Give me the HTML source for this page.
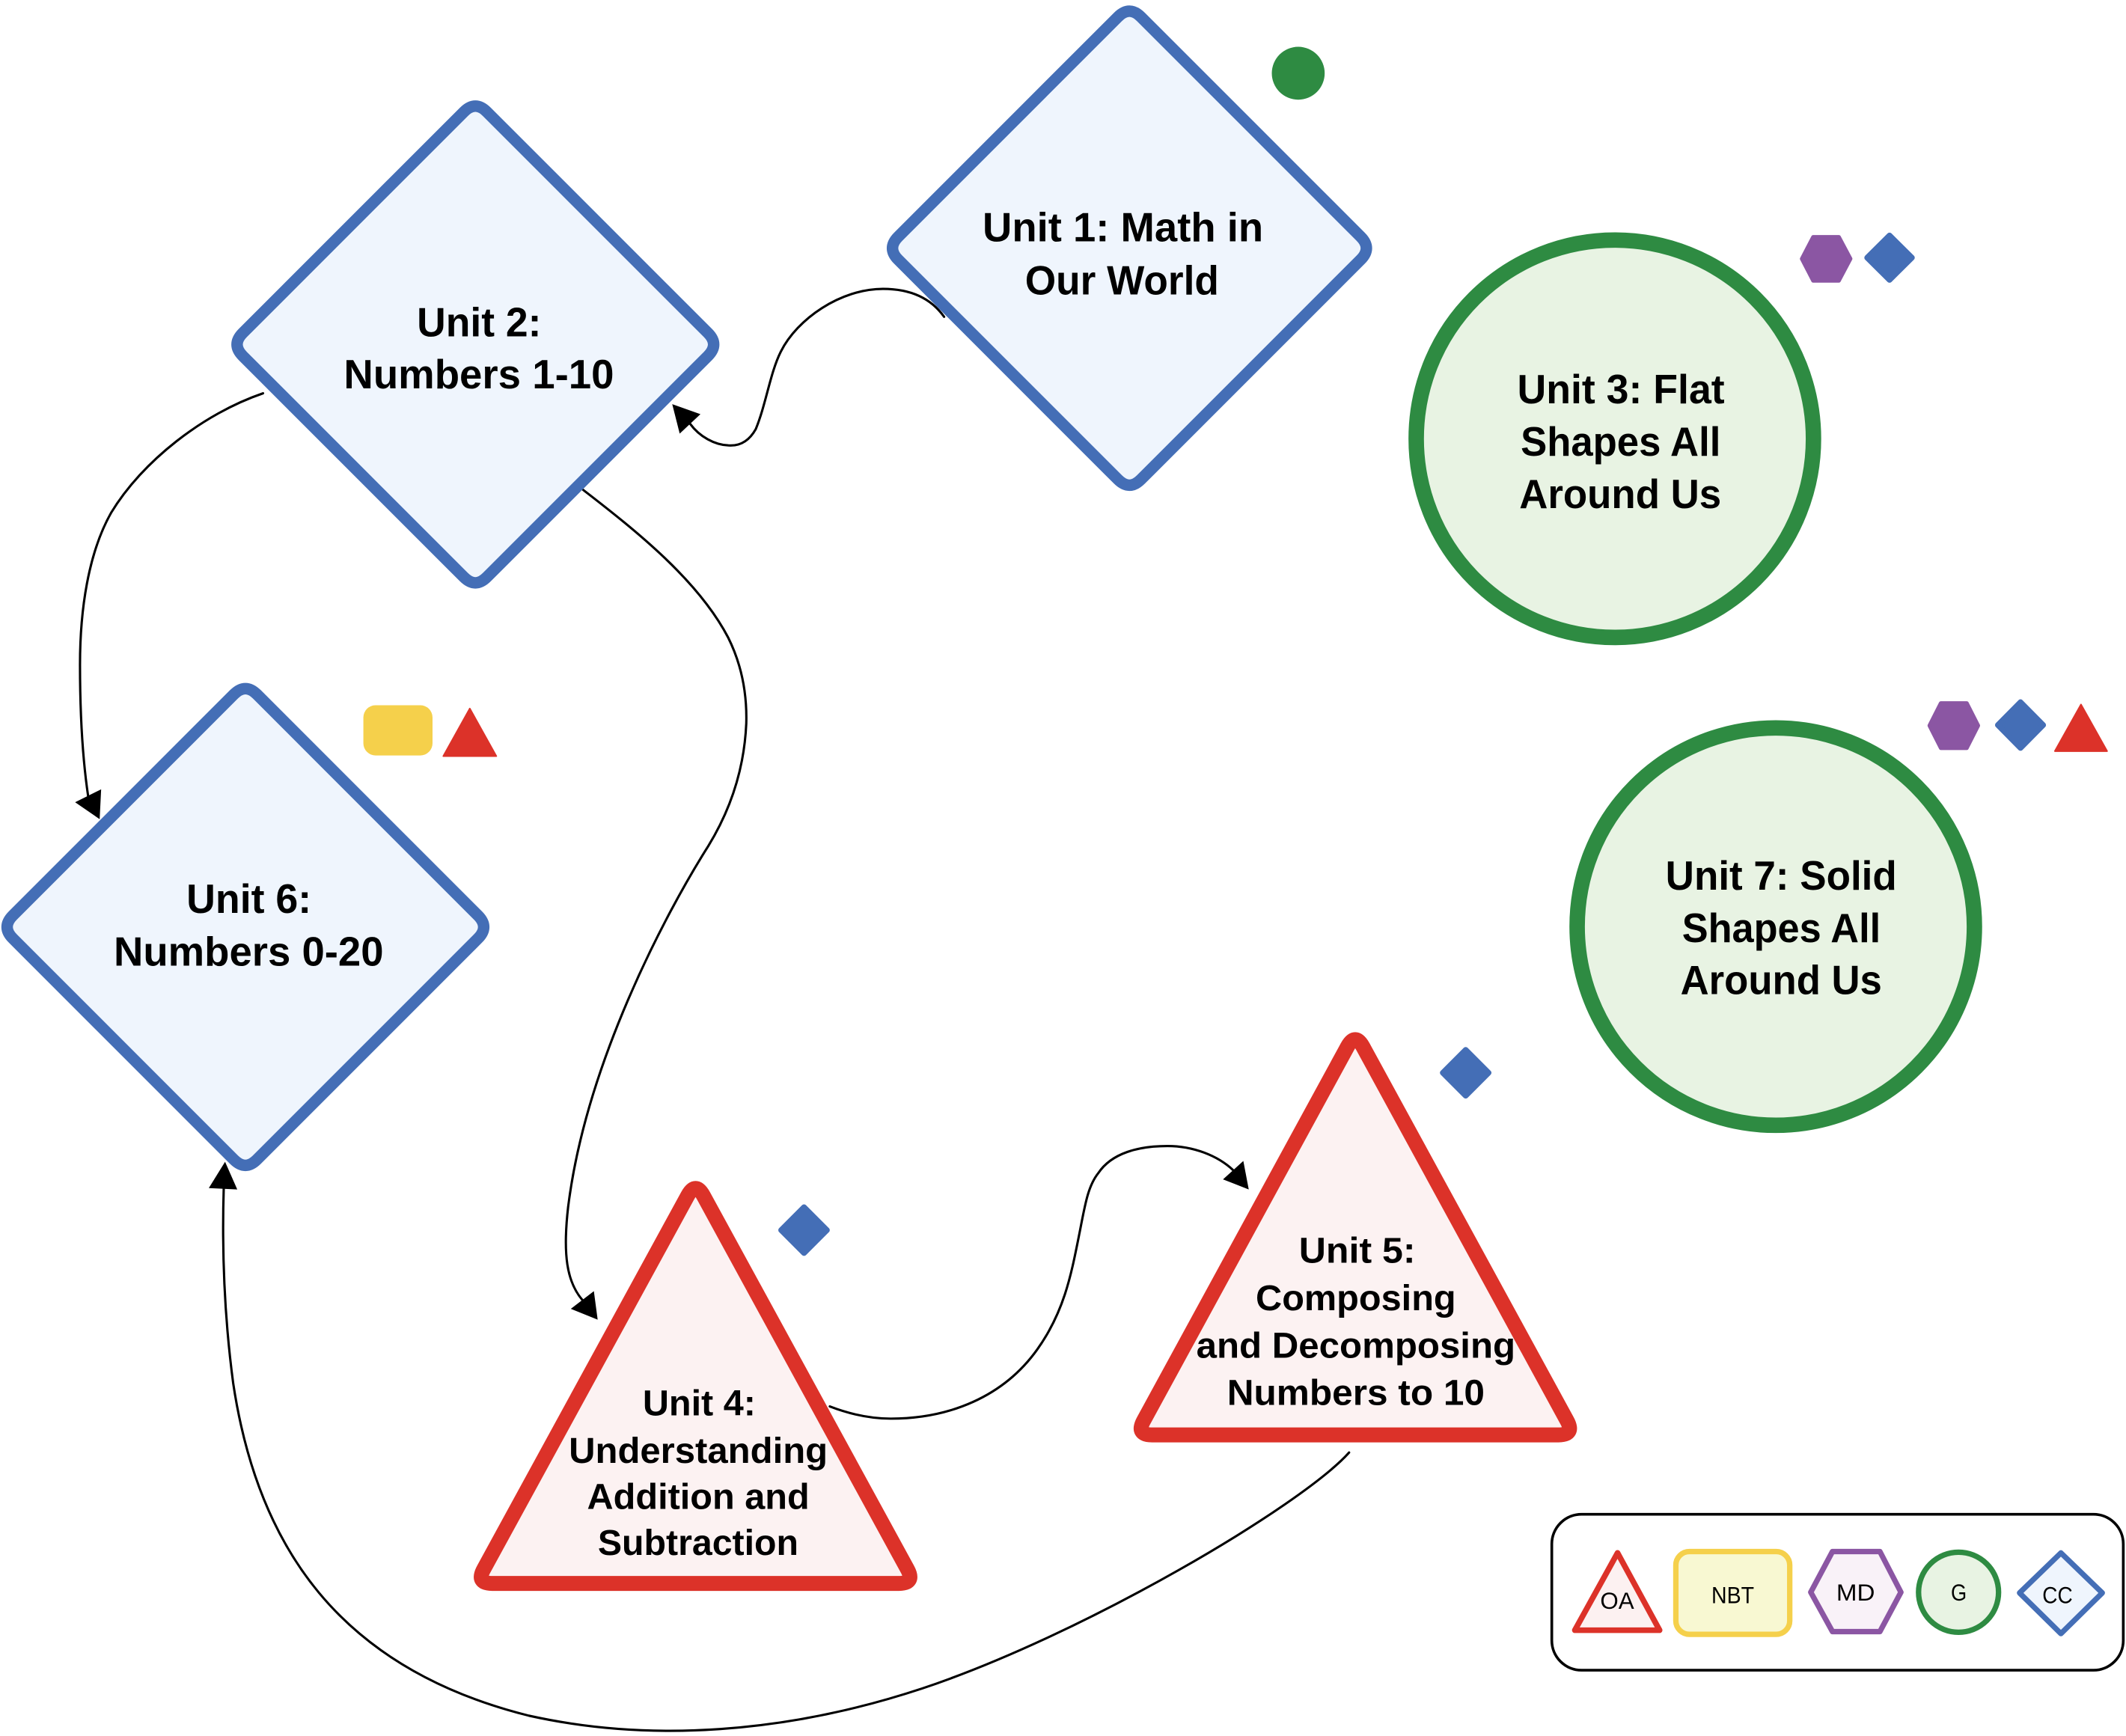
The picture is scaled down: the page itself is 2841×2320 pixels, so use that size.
<!DOCTYPE html>
<html>
<head>
<meta charset="utf-8">
<style>
html,body{margin:0;padding:0;background:#ffffff;width:2841px;height:2320px;overflow:hidden}
svg{display:block}
.t{font-family:"Liberation Sans",Arial,sans-serif;font-weight:bold;fill:#000}
.l{font-family:"Liberation Sans",Arial,sans-serif;font-weight:normal;fill:#000}
.c{fill:none;stroke:#000;stroke-width:1.7;stroke-linecap:round;stroke-linejoin:round}
</style>
</head>
<body>
<svg width="2841" height="2320" viewBox="0 0 1568 1280" preserveAspectRatio="none" xmlns="http://www.w3.org/2000/svg">
<rect x="0" y="0" width="1568" height="1280" fill="#ffffff"/>

<!-- Connectors -->
<path class="c" d="M696.3,233.6 C686,219 670,213 651.2,213 C620,213 588,235 575.8,259.4 C568,275 565,298 557.4,316.4 C552,326 545,329 537.2,328.4 C527,328 516,322 509,312.5"/>
<polygon points="495.8,298 501.3,319.7 516.6,305.4" fill="#000"/>

<path class="c" d="M194,290 C150,305 105,340 82,378 C65,408 59,450 59,490 C59,530 61,560 65,587"/>
<polygon points="73.5,604 55.4,591.5 74.6,582" fill="#000"/>

<path class="c" d="M430.1,361.2 C470,392 515,428 537,470 C547,490 551,512 550.4,533.5 C549,565 540,595 522.5,623.6 C490,675 432,785 419,890 C415,925 418,945 429.5,958.5"/>
<polygon points="440.8,973 421,965 438,952" fill="#000"/>

<path class="c" d="M612,1037 C625,1042 640,1046 657,1046 C700,1046 740,1030 765,995 C785,967 790,940 796,910 C800,890 802,875 810,865 C820,850 840,845 861,845 C880,845 898,852 909.5,862.8"/>
<polygon points="921,877 902,869.6 917,856" fill="#000"/>

<path class="c" d="M995,1071 C960,1110 800,1205 680,1245 C580,1278 480,1285 390,1265 C250,1230 190,1140 172,1020 C164,960 164,910 165,876.5"/>
<polygon points="166,856.6 154,876 175,877" fill="#000"/>

<!-- Unit 1 diamond -->
<path d="M824.51,12.49 Q833,4 841.49,12.49 L1003.51,174.51 Q1012,183 1003.51,191.49 L841.49,353.51 Q833,362 824.51,353.51 L662.49,191.49 Q654,183 662.49,174.51 Z" fill="#eff5fd" stroke="#446eb6" stroke-width="8.5" stroke-linejoin="round"/>
<text class="t" font-size="30" x="828.2" y="178" text-anchor="middle" textLength="207" lengthAdjust="spacingAndGlyphs">Unit 1: Math in</text>
<text class="t" font-size="30" x="827.5" y="217" text-anchor="middle" textLength="143" lengthAdjust="spacingAndGlyphs">Our World</text>

<!-- Unit 2 diamond -->
<path d="M342.11,82.49 Q350.6,74 359.09,82.49 L522.11,245.51 Q530.6,254 522.11,262.49 L359.09,425.51 Q350.6,434 342.11,425.51 L179.09,262.49 Q170.6,254 179.09,245.51 Z" fill="#eff5fd" stroke="#446eb6" stroke-width="8.5" stroke-linejoin="round"/>
<text class="t" font-size="30" x="353.4" y="248" text-anchor="middle" textLength="91.8" lengthAdjust="spacingAndGlyphs">Unit 2:</text>
<text class="t" font-size="30" x="353.2" y="286.4" text-anchor="middle" textLength="199.3" lengthAdjust="spacingAndGlyphs">Numbers 1-10</text>

<!-- Unit 6 diamond -->
<path d="M172.51,511.99 Q181,503.5 189.49,511.99 L352.51,675.01 Q361,683.5 352.51,691.99 L189.49,855.01 Q181,863.5 172.51,855.01 L9.49,691.99 Q1,683.5 9.49,675.01 Z" fill="#eff5fd" stroke="#446eb6" stroke-width="8.5" stroke-linejoin="round"/>
<text class="t" font-size="30" x="183.6" y="673" text-anchor="middle" textLength="92.2" lengthAdjust="spacingAndGlyphs">Unit 6:</text>
<text class="t" font-size="30" x="183.4" y="712" text-anchor="middle" textLength="199" lengthAdjust="spacingAndGlyphs">Numbers 0-20</text>

<!-- Unit 3 circle -->
<circle cx="1191" cy="323.5" r="146.5" fill="#e8f3e3" stroke="#2e8b42" stroke-width="11.4"/>
<text class="t" font-size="30" x="1195.5" y="297.3" text-anchor="middle" textLength="153" lengthAdjust="spacingAndGlyphs">Unit 3: Flat</text>
<text class="t" font-size="30" x="1195.3" y="336" text-anchor="middle" textLength="147.5" lengthAdjust="spacingAndGlyphs">Shapes All</text>
<text class="t" font-size="30" x="1195" y="374.7" text-anchor="middle" textLength="149" lengthAdjust="spacingAndGlyphs">Around Us</text>

<!-- Unit 7 circle -->
<circle cx="1309.7" cy="683.2" r="146.5" fill="#e8f3e3" stroke="#2e8b42" stroke-width="11.4"/>
<text class="t" font-size="30" x="1313.7" y="656" text-anchor="middle" textLength="170.6" lengthAdjust="spacingAndGlyphs">Unit 7: Solid</text>
<text class="t" font-size="30" x="1313.8" y="694.6" text-anchor="middle" textLength="146.5" lengthAdjust="spacingAndGlyphs">Shapes All</text>
<text class="t" font-size="30" x="1313.7" y="733" text-anchor="middle" textLength="148.6" lengthAdjust="spacingAndGlyphs">Around Us</text>

<!-- Unit 4 triangle -->
<path d="M507.24,881.53 Q513,871 518.76,881.53 L669.24,1156.97 Q675,1167.5 663,1167.5 L363,1167.5 Q351,1167.5 356.76,1156.97 Z" fill="#fcf2f2" stroke="#dc3229" stroke-width="11" stroke-linejoin="round"/>
<text class="t" font-size="26.5" x="515.7" y="1043.5" text-anchor="middle" textLength="83.4" lengthAdjust="spacingAndGlyphs">Unit 4:</text>
<text class="t" font-size="26.5" x="515" y="1078.5" text-anchor="middle" textLength="191" lengthAdjust="spacingAndGlyphs">Understanding</text>
<text class="t" font-size="26.5" x="515" y="1112.6" text-anchor="middle" textLength="164" lengthAdjust="spacingAndGlyphs">Addition and</text>
<text class="t" font-size="26.5" x="514.9" y="1146.5" text-anchor="middle" textLength="148" lengthAdjust="spacingAndGlyphs">Subtraction</text>

<!-- Unit 5 triangle -->
<path d="M993.74,771.83 Q999.5,761.3 1005.26,771.83 L1155.74,1047.47 Q1161.5,1058 1149.5,1058 L849.7,1058 Q837.7,1058 843.46,1047.47 Z" fill="#fcf2f2" stroke="#dc3229" stroke-width="11" stroke-linejoin="round"/>
<text class="t" font-size="26.5" x="1001" y="931" text-anchor="middle" textLength="86" lengthAdjust="spacingAndGlyphs">Unit 5:</text>
<text class="t" font-size="26.5" x="1000" y="966" text-anchor="middle" textLength="147.7" lengthAdjust="spacingAndGlyphs">Composing</text>
<text class="t" font-size="26.5" x="1000" y="1001" text-anchor="middle" textLength="235.4" lengthAdjust="spacingAndGlyphs">and Decomposing</text>
<text class="t" font-size="26.5" x="1000" y="1036" text-anchor="middle" textLength="190" lengthAdjust="spacingAndGlyphs">Numbers to 10</text>

<!-- Small icons -->
<circle cx="957.5" cy="54" r="19.5" fill="#2e8b42"/>

<polygon points="1329,190.8 1337.3,174.8 1356.2,174.8 1364.7,190.8 1356.2,206.9 1337.3,206.9" fill="#8b56a3" stroke="#8b56a3" stroke-width="3" stroke-linejoin="round"/>
<polygon points="1393.6,173.5 1410.2,190 1393.6,206.5 1377,190" fill="#446eb6" stroke="#446eb6" stroke-width="4" stroke-linejoin="round"/>

<polygon points="1423.1,535 1431.5,518.5 1450.5,518.5 1458.9,535 1450.5,551.5 1431.5,551.5" fill="#8b56a3" stroke="#8b56a3" stroke-width="3" stroke-linejoin="round"/>
<polygon points="1490.2,517.6 1507,534.6 1490.2,551.6 1473.4,534.6" fill="#446eb6" stroke="#446eb6" stroke-width="4" stroke-linejoin="round"/>
<polygon points="1534.8,519.5 1554,553.8 1515.6,553.8" fill="#dc3229" stroke="#dc3229" stroke-width="1.2" stroke-linejoin="round"/>

<rect x="268" y="520" width="51" height="37" rx="9" ry="9" fill="#f5d04b"/>
<polygon points="346.5,522.5 366,557.5 327,557.5" fill="#dc3229" stroke="#dc3229" stroke-width="1.2" stroke-linejoin="round"/>

<polygon points="593,890 610,907 593,924 576,907" fill="#446eb6" stroke="#446eb6" stroke-width="4" stroke-linejoin="round"/>
<polygon points="1081,774 1098,791 1081,808 1064,791" fill="#446eb6" stroke="#446eb6" stroke-width="4" stroke-linejoin="round"/>

<!-- Legend -->
<rect x="1144.5" y="1116.5" width="421.5" height="115" rx="22" ry="22" fill="#ffffff" stroke="#000" stroke-width="2"/>

<polygon points="1193,1145 1224,1202 1161.5,1202" fill="#fcf1f1" stroke="#dc3229" stroke-width="4.2" stroke-linejoin="round"/>
<text class="l" font-size="17.5" x="1192.7" y="1186.2" text-anchor="middle" textLength="25" lengthAdjust="spacingAndGlyphs">OA</text>

<rect x="1236" y="1144" width="84" height="61" rx="10" ry="10" fill="#f8f8d2" stroke="#f5d04b" stroke-width="4"/>
<text class="l" font-size="17.5" x="1278" y="1182" text-anchor="middle" textLength="31.5" lengthAdjust="spacingAndGlyphs">NBT</text>

<polygon points="1335.5,1174 1351.5,1144 1386.5,1144 1402,1174 1386.5,1203 1351.5,1203" fill="#f9f2f8" stroke="#8b56a3" stroke-width="4" stroke-linejoin="round"/>
<text class="l" font-size="17.5" x="1368.6" y="1180.2" text-anchor="middle" textLength="28.5" lengthAdjust="spacingAndGlyphs">MD</text>

<circle cx="1444.5" cy="1174" r="29.5" fill="#e8f3e3" stroke="#2e8b42" stroke-width="4"/>
<text class="l" font-size="17.5" x="1444.7" y="1180.2" text-anchor="middle" textLength="11.7" lengthAdjust="spacingAndGlyphs">G</text>

<polygon points="1520,1145 1550.5,1174.5 1520,1204.5 1489.5,1174.5" fill="#eff5fd" stroke="#446eb6" stroke-width="4" stroke-linejoin="round"/>
<text class="l" font-size="17.5" x="1517.5" y="1182" text-anchor="middle" textLength="22.3" lengthAdjust="spacingAndGlyphs">CC</text>
</svg>
</body>
</html>
